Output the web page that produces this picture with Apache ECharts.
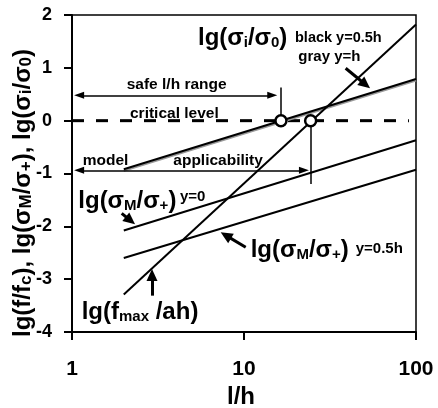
<!DOCTYPE html>
<html><head><meta charset="utf-8">
<script src="https://cdn.jsdelivr.net/npm/echarts@6/dist/echarts.min.js"></script>
<style>html,body{margin:0;padding:0;background:#fff}#c{width:438px;height:408px}</style>
</head><body><div id="c"></div>
<script>
// ---- data ----
const lineX = [2, 100];                 // l/h where the model lines start / end
const fmaxY = [-3.29, 1.82];            // lg(fmax/ah)
const sigmaIBlackY = [-0.92, 0.79];     // lg(σi/σ0), y=0.5h (black)
const sigmaIGrayY = [-0.95, 0.76];      // lg(σi/σ0), y=h (gray)
const sigmaM0Y = [-2.08, -0.37];        // lg(σM/σ+), y=0
const sigmaM05Y = [-2.6, -0.93];        // lg(σM/σ+), y=0.5h
const criticalX = [1, 91];              // extent of critical level (y=0)
const criticalY = 0;
const crossX = [16.4, 24.4];            // crossings with critical level
const yTicks = [-4, -3, -2, -1, 0, 1, 2];
const xTicks = [1, 10, 100];

const pair = (ys) => lineX.map((x, i) => [x, ys[i]]);
const FF = "'Liberation Sans', Arial, sans-serif";

const chart = echarts.init(document.getElementById('c'), null, {renderer: 'canvas'});

function rich(x, baseline, parts, mainSize, subSize) {
  mainSize = mainSize || 24; subSize = subSize || 15;
  const text = parts.map(p => (p[1] ? '{s|' : '{m|') + p[0] + '}').join('');
  return {
    type: 'text', x: x, y: baseline + 7.6, z: 100,
    style: {
      text: text, fill: '#000', align: 'left', verticalAlign: 'bottom',
      rich: {
        m: {fontSize: mainSize, fontWeight: 'bold', fontFamily: FF, lineHeight: 30, verticalAlign: 'bottom', fill: '#000'},
        s: {fontSize: subSize, fontWeight: 'bold', fontFamily: FF, lineHeight: 16, verticalAlign: 'bottom', fill: '#000'}
      }
    }
  };
}
function plain(x, baseline, text, size, align) {
  return {
    type: 'text', x: x, y: baseline - 0.31 * size, z: 100,
    style: {text: text, fill: '#000', align: align || 'left', verticalAlign: 'middle',
      fontSize: size, fontWeight: 'bold', fontFamily: FF}
  };
}

const thin = {color: '#000', width: 1.5, type: 'solid'};
const tri = (s) => ({symbol: 'triangle', symbolSize: s});

const option = {
  animation: false,
  grid: {left: 72, top: 15, right: 22, bottom: 76, show: true, borderColor: '#000', borderWidth: 1.5, backgroundColor: 'transparent'},
  xAxis: {
    type: 'log', logBase: 10, min: xTicks[0], max: xTicks[xTicks.length - 1],
    axisLine: {onZero: false, lineStyle: {color: '#000', width: 2}},
    axisTick: {inside: false, length: 8, lineStyle: {color: '#000', width: 2}},
    minorTick: {show: false},
    splitLine: {show: false},
    axisLabel: {color: '#000', fontSize: 21, fontWeight: 'bold', fontFamily: FF, margin: 27}
  },
  yAxis: {
    type: 'value', min: yTicks[0], max: yTicks[yTicks.length - 1], interval: 1,
    axisLine: {show: true, onZero: false, lineStyle: {color: '#000', width: 2}},
    axisTick: {show: true, inside: false, length: 8, lineStyle: {color: '#000', width: 2}},
    splitLine: {show: false},
    axisLabel: {color: '#000', fontSize: 18, fontWeight: 'bold', fontFamily: FF, margin: 20}
  },
  series: [
    {type: 'line', data: [[criticalX[0], criticalY], [criticalX[1], criticalY]], symbol: 'none', silent: true,
      lineStyle: {color: '#000', width: 3, type: [12, 12]}, z: 2},
    {type: 'line', data: pair(sigmaIGrayY), symbol: 'none', silent: true, lineStyle: {color: '#999', width: 2}, z: 3},
    {type: 'line', data: pair(sigmaIBlackY), symbol: 'none', silent: true, lineStyle: {color: '#000', width: 2}, z: 4},
    {type: 'line', data: pair(sigmaM0Y), symbol: 'none', silent: true, lineStyle: {color: '#000', width: 2}, z: 4},
    {type: 'line', data: pair(sigmaM05Y), symbol: 'none', silent: true, lineStyle: {color: '#000', width: 2}, z: 4},
    {type: 'line', data: pair(fmaxY), symbol: 'none', silent: true, lineStyle: {color: '#000', width: 2}, z: 4},
    {type: 'line', data: [], silent: true, z: 5,
      markLine: {
        silent: true, animation: false, symbol: 'none', label: {show: false},
        lineStyle: thin, emphasis: {disabled: true},
        data: [
          [Object.assign({coord: [1.1, 0.48]}, tri([7, 10])), Object.assign({coord: [14.6, 0.48]}, tri([7, 10]))],
          [Object.assign({coord: [1.1, -0.94]}, tri([7, 10])), Object.assign({coord: [22.3, -0.94]}, tri([7, 10]))],
          [{coord: [crossX[0], criticalY], symbol: 'none'}, {coord: [crossX[0], 0.63], symbol: 'none'}],
          [{coord: [crossX[1], criticalY], symbol: 'none'}, {coord: [crossX[1], -1.2], symbol: 'none'}]
        ]
      }
    },
    {type: 'line', data: [], silent: true, z: 6,
      markLine: {
        silent: true, animation: false, symbol: 'none', label: {show: false},
        lineStyle: {color: '#000', width: 3, type: 'solid'}, emphasis: {disabled: true},
        data: [
          [{coord: [39.0, 0.992], symbol: 'none'}, Object.assign({coord: [50.8, 0.685]}, tri([11, 12]))],
          [{coord: [1.945, -1.753], symbol: 'none'}, Object.assign({coord: [2.186, -1.889]}, tri([11, 12]))],
          [{coord: [10.23, -2.396], symbol: 'none'}, Object.assign({coord: [7.84, -2.171]}, tri([11, 12]))],
          [{coord: [2.918, -3.312], symbol: 'none'}, Object.assign({coord: [2.918, -2.921]}, tri([11, 12]))]
        ]
      }
    },
    {type: 'scatter', data: crossX.map(x => [x, criticalY]), symbol: 'circle', symbolSize: 11, silent: true, z: 10,
      itemStyle: {color: '#fff', opacity: 1, borderColor: '#000', borderWidth: 2.5}}
  ],
  graphic: [
    rich(198, 43, [['lg(σ', 0], ['i', 1], ['/σ', 0], ['0', 1], [')', 0]]),
    plain(295, 42, 'black y=0.5h', 14.5),
    plain(298.3, 61.8, 'gray y=h', 15),
    plain(126.7, 90, 'safe l/h range', 15.5),
    plain(130, 118.5, 'critical level', 15.5),
    plain(82.7, 166, 'model', 15.5),
    plain(173.3, 166, 'applicability', 15.5),
    rich(78.3, 206, [['lg(σ', 0], ['M', 1], ['/σ', 0], ['+', 1], [')', 0]]),
    plain(180, 202, 'y=0', 15),
    rich(250.7, 255, [['lg(σ', 0], ['M', 1], ['/σ', 0], ['+', 1], [')', 0]]),
    plain(355.7, 254, 'y=0.5h', 15),
    rich(81.7, 316.5, [['lg(f', 0], ['max', 1], [' /ah)', 0]]),
    plain(241, 405, 'l/h', 24, 'center'),
    {
      type: 'text', x: 21, y: 193, rotation: Math.PI / 2, z: 100,
      style: {
        text: '{m|lg(f/f}{s|c}{m|), lg(σ}{s|M}{m|/σ}{s|+}{m|), lg(σ}{s|i}{m|/σ}{s|0}{m|)}',
        fill: '#000', align: 'center', verticalAlign: 'middle',
        rich: {
          m: {fontSize: 24, fontWeight: 'bold', fontFamily: FF, lineHeight: 28, verticalAlign: 'bottom', fill: '#000'},
          s: {fontSize: 17, fontWeight: 'bold', fontFamily: FF, lineHeight: 20, verticalAlign: 'bottom', fill: '#000'}
        }
      }
    }
  ]
};
chart.setOption(option);
</script>
</body></html>
